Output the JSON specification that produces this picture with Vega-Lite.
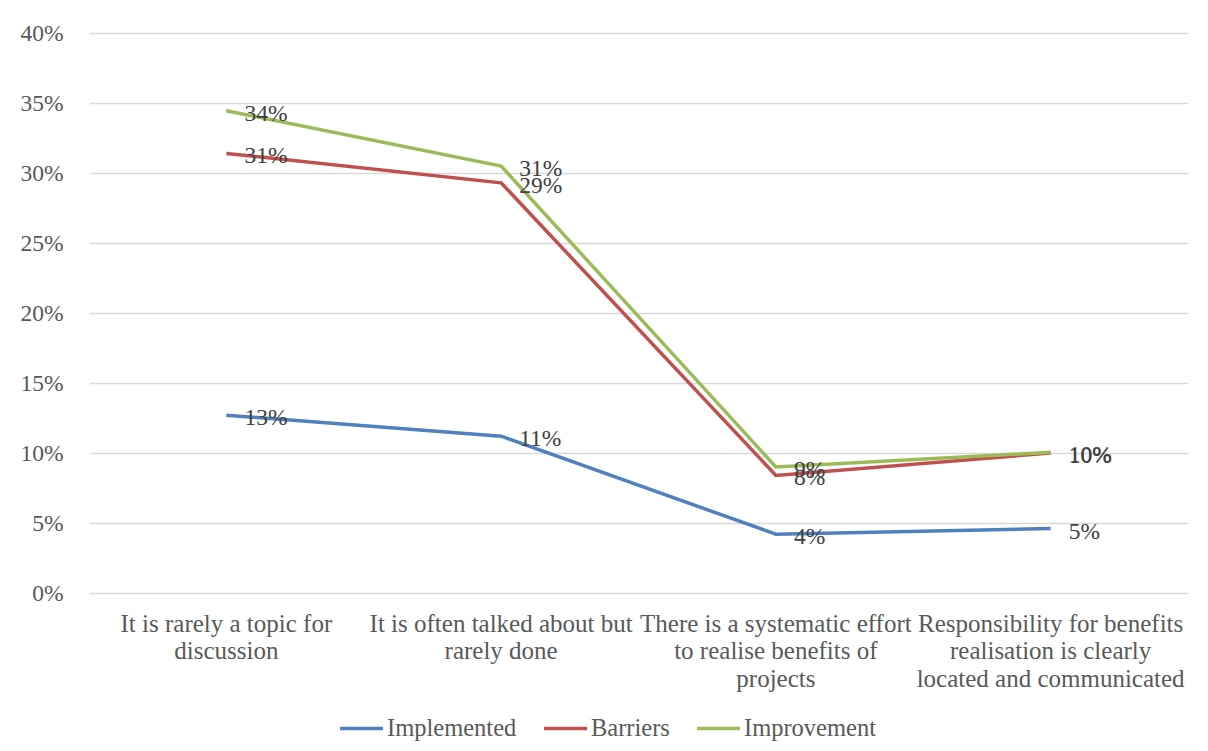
{
  "$schema": "https://vega.github.io/schema/vega-lite/v6.json",
  "width": 1099,
  "height": 560,
  "autosize": {"type": "none"},
  "padding": {"left": 89, "top": 33, "right": 20, "bottom": 158},
  "background": "white",
  "config": {
    "view": {"stroke": null},
    "font": "Liberation Serif",
    "axis": {"labelFont": "Liberation Serif", "labelColor": "#595959", "labelFontSize": 23.5, "domain": false, "ticks": false, "title": null, "labelOverlap": false},
    "legend": {"labelFont": "Liberation Serif", "labelColor": "#595959", "labelFontSize": 24.5}
  },
  "data": {
    "values": [
      {"category": "It is rarely a topic for discussion", "series": "Implemented", "value": 0.127},
      {"category": "It is often talked about but rarely done", "series": "Implemented", "value": 0.112},
      {"category": "There is a systematic effort to realise benefits of projects", "series": "Implemented", "value": 0.042},
      {"category": "Responsibility for benefits realisation is clearly located and communicated", "series": "Implemented", "value": 0.046},
      {"category": "It is rarely a topic for discussion", "series": "Barriers", "value": 0.314},
      {"category": "It is often talked about but rarely done", "series": "Barriers", "value": 0.293},
      {"category": "There is a systematic effort to realise benefits of projects", "series": "Barriers", "value": 0.084},
      {"category": "Responsibility for benefits realisation is clearly located and communicated", "series": "Barriers", "value": 0.1},
      {"category": "It is rarely a topic for discussion", "series": "Improvement", "value": 0.3445},
      {"category": "It is often talked about but rarely done", "series": "Improvement", "value": 0.305},
      {"category": "There is a systematic effort to realise benefits of projects", "series": "Improvement", "value": 0.09},
      {"category": "Responsibility for benefits realisation is clearly located and communicated", "series": "Improvement", "value": 0.1005}
    ]
  },
  "encoding": {
    "x": {
      "field": "category",
      "type": "nominal",
      "sort": null,
      "scale": {"type": "band", "paddingInner": 0, "paddingOuter": 0},
      "axis": {
        "labelAngle": 0,
        "labelPadding": 18,
        "labelFontSize": 25,
        "labelLineHeight": 27.5,
        "labelLimit": 400,
        "grid": false,
        "labelExpr": "datum.value == 'It is rarely a topic for discussion' ? ['It is rarely a topic for', 'discussion'] : datum.value == 'It is often talked about but rarely done' ? ['It is often talked about but', 'rarely done'] : datum.value == 'There is a systematic effort to realise benefits of projects' ? ['There is a systematic effort', 'to realise benefits of', 'projects'] : ['Responsibility for benefits', 'realisation is clearly', 'located and communicated']"
      }
    },
    "y": {
      "field": "value",
      "type": "quantitative",
      "scale": {"domain": [0, 0.4], "nice": false},
      "axis": {"format": ".0%", "values": [0, 0.05, 0.1, 0.15, 0.2, 0.25, 0.3, 0.35, 0.4], "grid": true, "gridColor": "#d9d9d9", "gridWidth": 1.5, "labelPadding": 26}
    },
    "color": {
      "field": "series",
      "type": "nominal",
      "scale": {"domain": ["Implemented", "Barriers", "Improvement"], "range": ["#4f81bd", "#c0504d", "#9bbb59"]},
      "legend": {"title": null, "orient": "none", "legendX": 249, "legendY": 672, "direction": "horizontal", "symbolType": "stroke", "symbolSize": 1849, "symbolStrokeWidth": 3.5, "columnPadding": 20, "labelOffset": 2}
    }
  },
  "layer": [
    {"mark": {"type": "line", "strokeWidth": 3.5}},
    {"mark": {"type": "text", "align": "left", "baseline": "middle", "dx": 18, "dy": 3, "fontSize": 23.5, "color": "#404040"}, "encoding": {"text": {"field": "value", "type": "quantitative", "format": ".0%"}, "color": {"value": "#404040"}}}
  ]
}
